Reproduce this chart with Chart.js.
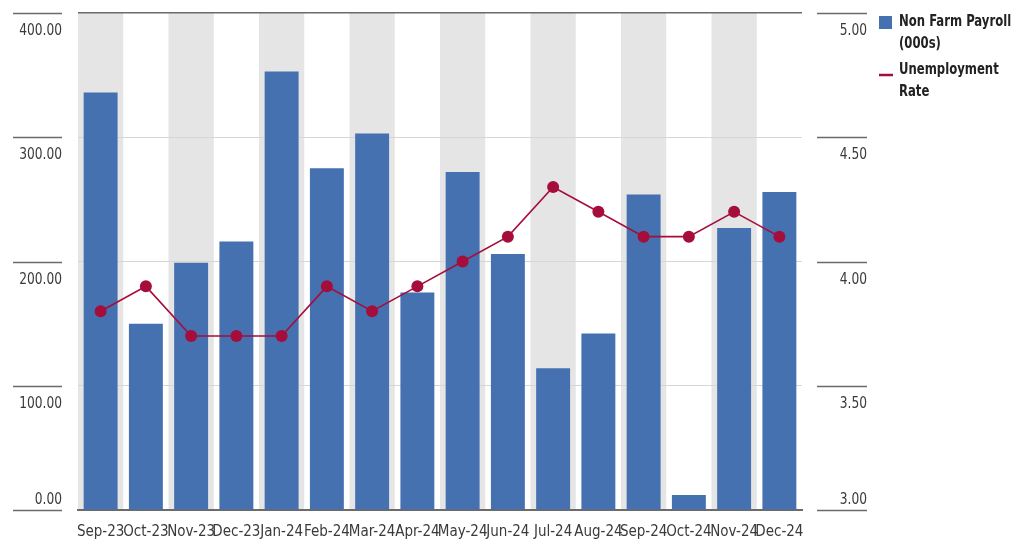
<!DOCTYPE html>
<html>
<head>
<meta charset="utf-8">
<script src="https://cdn.jsdelivr.net/npm/chart.js@4.4.1/dist/chart.umd.min.js"></script>
<style>
  html, body { margin: 0; padding: 0; background: #fff; }
  #wrap { width: 1026px; height: 542px; }
</style>
</head>
<body>
<div id="wrap"><canvas id="payrollChart" width="1026" height="542"></canvas></div>
<script>
// ===== Data =====
const months = ['Sep-23','Oct-23','Nov-23','Dec-23','Jan-24','Feb-24','Mar-24','Apr-24',
                'May-24','Jun-24','Jul-24','Aug-24','Sep-24','Oct-24','Nov-24','Dec-24'];
const payroll = [336, 150, 199, 216, 353, 275, 303, 175, 272, 206, 114, 142, 254, 12, 227, 256];
const unemployment = [3.8, 3.9, 3.7, 3.7, 3.7, 3.9, 3.8, 3.9, 4.0, 4.1, 4.3, 4.2, 4.1, 4.1, 4.2, 4.1];
const payrollTicks = [0, 100, 200, 300, 400];
const rateTicks = [3.0, 3.5, 4.0, 4.5, 5.0];

const FONT = '"Liberation Sans Narrow", "DejaVu Sans Condensed", Roboto, sans-serif';
const BLUE = '#4571b1';
const RED = '#a50d3b';
const TEXT = '#3a3a3a';
const AXIS = '#6b6b6b';

Chart.defaults.font.family = FONT;
Chart.defaults.font.size = 15;
Chart.defaults.color = TEXT;

// narrow text helper: squeeze horizontally around the anchor point
function squeezeText(ctx, text, x, y, k) {
    ctx.save();
    ctx.translate(x, y);
    ctx.scale(k, 1);
    ctx.fillText(text, 0, 0);
    ctx.restore();
}

// grey band behind every other month
const columnShading = {
    id: 'columnShading',
    beforeDraw(chart) {
        const ctx = chart.ctx, x = chart.scales.x, area = chart.chartArea;
        const w = x.getPixelForValue(1) - x.getPixelForValue(0);
        ctx.save();
        ctx.fillStyle = '#e5e5e5';
        months.forEach((m, i) => {
            if (i % 2 === 0) ctx.fillRect(x.getPixelForValue(i) - w / 2, area.top, w, area.bottom - area.top);
        });
        ctx.restore();
    }
};

// detached tick rules with the value sitting under (or above, for the floor) the rule
const sideTicks = {
    id: 'sideTicks',
    afterDraw(chart) {
        const ctx = chart.ctx;
        const sides = [
            { scale: chart.scales.y, values: payrollTicks, x0: 13, x1: 62 },
            { scale: chart.scales.y1, values: rateTicks, x0: 817, x1: 867 }
        ];
        ctx.save();
        ctx.font = '16px ' + FONT;
        ctx.textAlign = 'right';
        ctx.textBaseline = 'alphabetic';
        sides.forEach(s => {
            const low = Math.min(...s.values);
            s.values.forEach(v => {
                const py = Math.round(s.scale.getPixelForValue(v)) + 0.5;
                ctx.strokeStyle = AXIS;
                ctx.lineWidth = 1.5;
                ctx.beginPath();
                ctx.moveTo(s.x0, py);
                ctx.lineTo(s.x1, py);
                ctx.stroke();
                ctx.fillStyle = TEXT;
                squeezeText(ctx, v.toFixed(2), s.x1, v === low ? py - 7 : py + 21, 0.85);
            });
        });
        ctx.restore();
    }
};

// legend block on the right
const sideLegend = {
    id: 'sideLegend',
    afterDraw(chart) {
        const ctx = chart.ctx;
        ctx.save();
        ctx.font = 'bold 16px ' + FONT;
        ctx.textAlign = 'left';
        ctx.textBaseline = 'middle';
        ctx.fillStyle = BLUE;
        ctx.fillRect(879, 16, 13, 13);
        ctx.fillStyle = '#222';
        squeezeText(ctx, 'Non Farm Payroll', 899, 22, 0.81);
        squeezeText(ctx, '(000s)', 899, 44, 0.81);
        ctx.strokeStyle = RED;
        ctx.lineWidth = 2.5;
        ctx.beginPath();
        ctx.moveTo(879, 75);
        ctx.lineTo(893, 75);
        ctx.stroke();
        squeezeText(ctx, 'Unemployment', 899, 70, 0.81);
        squeezeText(ctx, 'Rate', 899, 92, 0.81);
        ctx.restore();
    }
};

new Chart(document.getElementById('payrollChart'), {
    data: {
        labels: months,
        datasets: [{
            type: 'line',
            label: 'Unemployment Rate',
            data: unemployment,
            yAxisID: 'y1',
            borderColor: RED,
            backgroundColor: RED,
            borderWidth: 1.6,
            pointRadius: 6,
            pointBackgroundColor: RED,
            pointBorderWidth: 0,
            tension: 0,
            order: 1
        }, {
            type: 'bar',
            label: 'Non Farm Payroll (000s)',
            data: payroll,
            yAxisID: 'y',
            backgroundColor: BLUE,
            barPercentage: 0.75,
            categoryPercentage: 1.0,
            order: 2
        }]
    },
    options: {
        responsive: false,
        animation: false,
        layout: { padding: { top: 13 } },
        plugins: {
            legend: { display: false },
            tooltip: { enabled: false }
        },
        scales: {
            x: {
                grid: { display: false },
                border: { color: AXIS, width: 2 },
                ticks: { autoSkip: false, maxRotation: 0, padding: 5, color: TEXT },
                afterFit(s) { s.height = 32; }
            },
            y: {
                position: 'left',
                min: 0,
                max: 400,
                afterBuildTicks(s) { s.ticks = payrollTicks.map(v => ({ value: v })); },
                ticks: { display: false },
                border: { display: false },
                grid: {
                    drawTicks: false,
                    color: c => c.tick.value === 400 ? AXIS : '#d6d6d6',
                    lineWidth: c => c.tick.value === 400 ? 1.5 : 1
                },
                afterFit(s) { s.width = 78; }
            },
            y1: {
                position: 'right',
                min: 3,
                max: 5,
                afterBuildTicks(s) { s.ticks = rateTicks.map(v => ({ value: v })); },
                ticks: { display: false },
                border: { display: false },
                grid: { drawOnChartArea: false, drawTicks: false },
                afterFit(s) { s.width = 224; }
            }
        }
    },
    plugins: [columnShading, sideTicks, sideLegend]
});
</script>
</body>
</html>
